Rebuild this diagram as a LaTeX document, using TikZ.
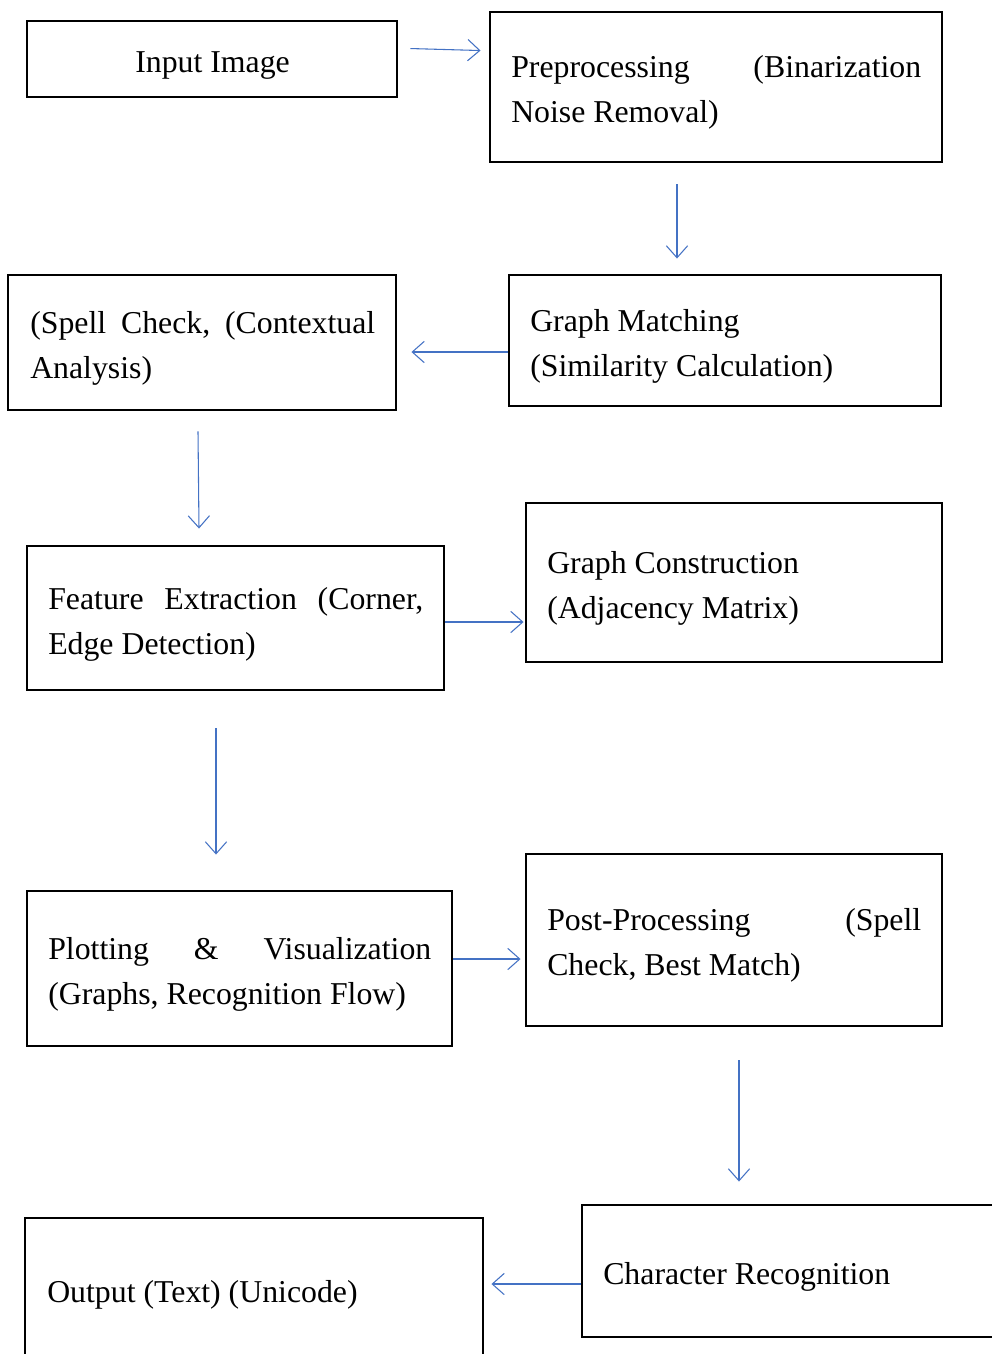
\documentclass[tikz,border=0pt]{standalone}
\usepackage{fontspec}
\setmainfont{Liberation Serif}
\usetikzlibrary{arrows.meta,calc,fit}
\definecolor{arrblue}{HTML}{4472C4}
\tikzset{
  box/.style={draw=black,line width=2.2pt,inner sep=0pt},
  txt/.style={anchor=base west,inner sep=0pt,align=left,
    font=\fontsize{23.85}{33.75}\selectfont},
  arr/.style={draw=arrblue,line width=0.8pt,
    -{Straight Barb[length=9pt,width=16pt,line width=0.8pt]}},
}
\newcommand{\jline}[2]{\makebox[#1][s]{#2}}
\begin{document}
\begin{tikzpicture}[x=0.75pt,y=-0.75pt]
\useasboundingbox (0,0) rectangle (992,1354);
\clip (0,0) rectangle (992,1354);
% boxes
\node[box,fit={(27,21) (397,97)}] (inp) {};
\node[box,fit={(490,12) (942,162)}] (pre) {};
\node[box,fit={(509,275) (941,406)}] (gm) {};
\node[box,fit={(8,275) (396,410)}] (sp) {};
\node[box,fit={(27,546) (444,690)}] (fe) {};
\node[box,fit={(526,503) (942,662)}] (gc) {};
\node[box,fit={(27,891) (452,1046)}] (pl) {};
\node[box,fit={(526,854) (942,1026)}] (pp) {};
\node[box,fit={(582,1205) (1010,1337)}] (cr) {};
\node[box,fit={(25,1218) (483,1370)}] (out) {};
% texts
\node[txt] (tinp) at (135,72) {Input Image};
\node[txt] (tpre) at (511,122) {\jline{307.5pt}{Preprocessing\hfill(Binarization}\\Noise Removal)};
\node[txt] (tgm) at (530,376) {Graph Matching\\(Similarity Calculation)};
\node[txt] (tsp) at (30,378) {\jline{258.75pt}{(Spell\hfill Check,\hfill (Contextual}\\Analysis)};
\node[txt] (tfe) at (48,654) {\jline{281.25pt}{Feature\hfill Extraction\hfill (Corner,}\\Edge Detection)};
\node[txt] (tgc) at (547,618) {Graph Construction\\(Adjacency Matrix)};
\node[txt] (tpl) at (48,1004) {\jline{287.25pt}{Plotting\hfill \&\hfill Visualization}\\(Graphs, Recognition Flow)};
\node[txt] (tpp) at (547,975) {\jline{280.5pt}{Post-Processing\hfill (Spell}\\Check, Best Match)};
\node[txt] (tcr) at (603,1284) {Character Recognition};
\node[txt] (tout) at (47,1302) {Output (Text) (Unicode)};
% arrows
\draw[arr] ($(inp.north east)+(12,29)$) -- ($(pre.north west)+(-8,40)$);
\draw[arr,line width=1.8pt] ($(pre.south)+(-39,21)$) -- ($(gm.north)+(-48,-15)$);
\draw[arr] ($(gm.west)+(0,11.5)$) -- ($(sp.east)+(14,9.5)$);
\draw[arr] ($(sp.south)+(-4,20)$) -- ($(fe.north)+(-36.5,-16)$);
\draw[arr] ($(fe.east)+(0,4)$) -- ($(gc.west)+(-1,39.5)$);
\draw[arr] ($(fe.south)+(-19.5,37)$) -- ($(pl.north)+(-23.5,-35)$);
\draw[arr] ($(pl.east)+(0,-9.5)$) -- ($(pp.west)+(-4,19)$);
\draw[arr] ($(pp.south)+(5,33)$) -- ($(cr.north)+(-57,-22)$);
\draw[arr] ($(cr.west)+(0,13)$) -- ($(out.east)+(7,-10)$);
\end{tikzpicture}
\end{document}
